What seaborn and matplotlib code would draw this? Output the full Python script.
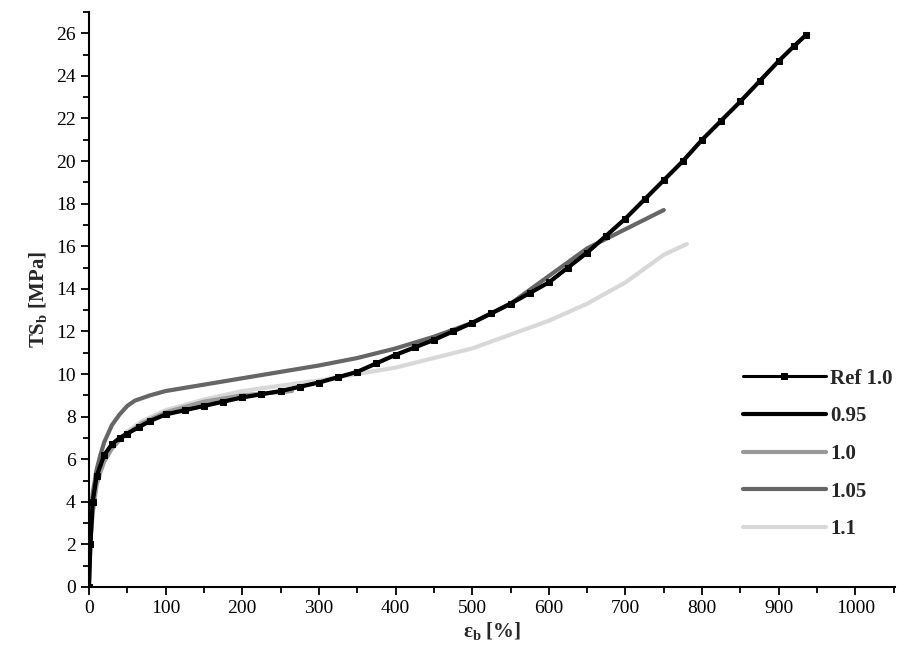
import matplotlib
matplotlib.use("Agg")
import matplotlib.pyplot as plt
import seaborn as sns
import pandas as pd
from matplotlib.ticker import MultipleLocator

ref_x = [0, 2, 5, 10, 20, 30, 40, 50, 65, 80, 100, 125, 150, 175, 200, 225, 250, 275, 300, 325, 350, 375, 400, 425, 450, 475, 500, 525, 550, 575, 600, 625, 650, 675, 700, 725, 750, 775, 800, 825, 850, 875, 900, 920, 935]
ref_y = [0, 2, 4, 5.2, 6.2, 6.7, 7.0, 7.2, 7.5, 7.8, 8.1, 8.3, 8.5, 8.7, 8.9, 9.05, 9.2, 9.4, 9.6, 9.85, 10.1, 10.5, 10.9, 11.25, 11.6, 12.0, 12.4, 12.85, 13.3, 13.8, 14.3, 15.0, 15.7, 16.5, 17.3, 18.2, 19.1, 20.0, 21.0, 21.9, 22.8, 23.75, 24.7, 25.4, 25.9]
x095, y095 = ref_x, ref_y
x100 = [0, 2, 5, 10, 15, 20, 30, 40, 50, 70, 100, 150, 200, 265]
y100 = [0, 2.2, 3.5, 4.8, 5.4, 5.9, 6.5, 6.9, 7.2, 7.7, 8.2, 8.7, 9.0, 9.2]
x105 = [0, 2, 5, 10, 15, 20, 30, 40, 50, 60, 80, 100, 125, 150, 200, 250, 300, 350, 400, 450, 500, 550, 600, 650, 700, 750]
y105 = [0, 3.0, 4.4, 5.5, 6.2, 6.8, 7.6, 8.1, 8.5, 8.75, 9.0, 9.2, 9.35, 9.5, 9.8, 10.1, 10.4, 10.75, 11.2, 11.75, 12.4, 13.3, 14.6, 15.9, 16.8, 17.7]
x110 = [0, 2, 5, 10, 15, 20, 30, 40, 50, 70, 100, 150, 200, 300, 400, 500, 600, 650, 700, 750, 780]
y110 = [0, 2.2, 3.5, 4.8, 5.4, 5.9, 6.5, 6.9, 7.3, 7.8, 8.3, 8.8, 9.2, 9.7, 10.3, 11.2, 12.5, 13.3, 14.3, 15.6, 16.1]

sns.set_theme(style="ticks")
plt.rcParams['font.family'] = ['Liberation Serif', 'DejaVu Serif']
plt.rcParams['mathtext.fontset'] = 'custom'
plt.rcParams['mathtext.rm'] = 'Liberation Serif'
plt.rcParams['mathtext.bf'] = 'Liberation Serif:bold'

fig = plt.figure(figsize=(8.98, 6.52), dpi=100)
ax = fig.add_axes([0.099, 0.0997, 0.898, 0.882])

series = [("Ref 1.0", ref_x, ref_y, "black", "s"),
          ("0.95", x095, y095, "black", None),
          ("1.0", x100, y100, "#9a9a9a", None),
          ("1.05", x105, y105, "#666666", None),
          ("1.1", x110, y110, "#d8d8d8", None)]
order = [3, 4, 2, 1, 0]
for i in order:
    name, xs, ys, c, m = series[i]
    df = pd.DataFrame({"x": xs, "y": ys})
    sns.lineplot(data=df, x="x", y="y", ax=ax, color=c, lw=3 if i != 0 else 2.2,
                 marker=m, markersize=4, markeredgecolor=c, sort=False, label=name,
                 estimator=None)
h, l = ax.get_legend_handles_labels()
d = dict(zip(l, h))
ax.legend([d[s[0]] for s in series], [s[0] for s in series], loc="lower right",
          bbox_to_anchor=(1.02, 0.05), frameon=False, handlelength=4.0, handletextpad=0.2,
          labelspacing=0.85, prop={"weight": "bold", "size": 15,
                                  "family": "Liberation Serif"})

ax.set_xlim(0, 1052)
ax.set_ylim(0, 27)
ax.xaxis.set_major_locator(MultipleLocator(100))
ax.xaxis.set_minor_locator(MultipleLocator(50))
ax.yaxis.set_major_locator(MultipleLocator(2))
ax.yaxis.set_minor_locator(MultipleLocator(1))
ax.tick_params(which="both", direction="out", width=1.3, labelsize=14, colors="black")
ax.tick_params(which="major", length=6)
ax.tick_params(which="minor", length=4)
for s in ["left", "bottom"]:
    ax.spines[s].set_linewidth(1.5)
    ax.spines[s].set_color("black")
sns.despine(ax=ax)
ax.set_xlabel(r"$\mathbf{\varepsilon_b}$ [%]", fontsize=15, fontweight="bold", labelpad=2)
ax.set_ylabel(r"TS$_\mathbf{b}$ [MPa]", fontsize=15, fontweight="bold")
fig.savefig("out.png", dpi=100)
